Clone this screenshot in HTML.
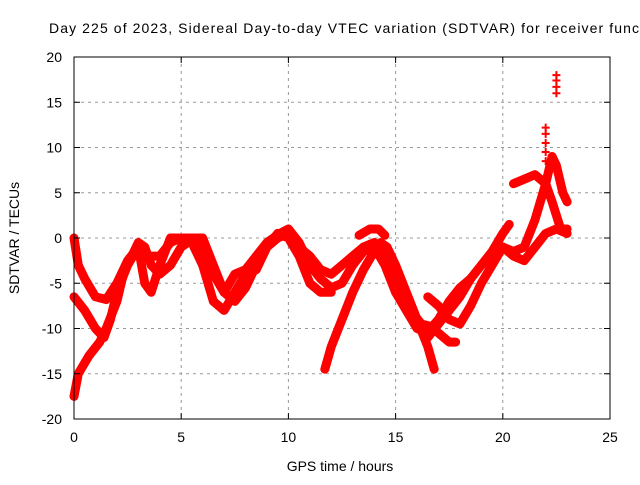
<!DOCTYPE html>
<html><head><meta charset="utf-8"><style>
body{margin:0;background:#fff;width:640px;height:480px;overflow:hidden;font-family:"Liberation Sans",sans-serif}
svg text{font-family:"Liberation Sans",sans-serif;font-size:14px;fill:#000}
</style></head><body>
<svg id="chart" width="640" height="480">
<text x="49" y="33" textLength="590" lengthAdjust="spacing">Day 225 of 2023, Sidereal Day-to-day VTEC variation (SDTVAR) for receiver func</text>
<text x="340" y="471" text-anchor="middle">GPS time / hours</text>
<text transform="translate(19,238) rotate(-90)" text-anchor="middle">SDTVAR / TECUs</text>
<g id="grid"></g><g id="series"></g><g id="ticks"></g>
<rect x="74" y="57" width="536" height="362" fill="none" stroke="#000" stroke-width="1"/>
</svg>
<script>
const xTicks=[0,5,10,15,20,25];
const yTicks=[20,15,10,5,0,-5,-10,-15,-20];
const track1=[[0,-17.5],[0.2,-15],[0.7,-13],[1.2,-11.5],[1.5,-10],[2,-7],[2.3,-4],[2.7,-2],[3,-0.5],[3.3,-1],[3.6,-3],[4,-4],[4.5,-3],[5,-1],[5.5,-0.2],[6,-1],[6.5,-4],[7,-6],[7.5,-4],[8,-3.5],[8.5,-2],[9,-0.5],[9.6,0.5],[10,1],[10.5,-0.5],[11,-3],[11.5,-4.5],[12,-5.5],[12.5,-5],[13,-3],[13.5,-1.5],[14,-1],[14.5,-3],[15,-6],[15.5,-8],[16,-10],[16.5,-10.5],[17,-9],[17.5,-7],[18,-5.5],[18.5,-4.5]];
const track2=[[0,-6.5],[0.5,-8],[1,-10],[1.4,-11],[1.7,-9],[2,-6],[2.5,-3],[3,-1],[3.5,-2],[4,-2],[4.5,-0.5],[5,0],[5.5,0],[6,0],[6.5,-3],[7,-6],[7.5,-7],[8,-5.5],[8.5,-3],[9,-1],[9.5,0],[10,0.5],[10.5,-1],[11,-2],[11.5,-3.5],[12,-4],[12.5,-3],[13,-2],[13.5,-1],[14,-0.5],[14.5,-2],[15,-5],[15.5,-7],[16,-9],[16.5,-11],[17,-9.5],[17.5,-8],[18,-6.5],[18.5,-4.5],[19,-3],[19.5,-1.5],[20,0.5],[20.3,1.5]];
const track3=[[0,0],[0.2,-3],[0.5,-4.5],[1,-6.5],[1.5,-6.8],[2,-5],[2.5,-2.5],[3,-1],[3.3,-5],[3.6,-6],[4,-3],[4.5,0],[5,0],[5.5,-0.5],[6,-3],[6.5,-7],[7,-8],[7.5,-6],[8,-4],[8.5,-3.5],[9,-1],[9.5,0.5],[10,0],[10.5,-2],[11,-5],[11.5,-6],[12,-6]];
const track4=[[11.7,-14.5],[12,-12],[12.5,-9],[13,-6],[13.5,-3.5],[14,-1.5],[14.3,-0.5],[14.6,-1],[15,-3],[15.5,-6],[16,-9],[16.5,-12],[16.8,-14.5]];
const track5=[[13.3,0.3],[13.8,1],[14.2,1],[14.5,0.3]];
const track6=[[16.5,-6.5],[17,-7.5],[17.5,-9],[18,-9.5],[18.5,-7.5],[19,-5],[19.5,-3],[20,-1],[20.5,-2],[21,-2.5],[21.5,-1],[22,0.5],[22.5,1],[23,0.5]];
const track7=[[19,-3],[19.5,-2],[20,-1],[20.5,-1.5],[21,-1],[21.5,2],[22,6],[22.3,9],[22.5,8],[22.8,5],[23,4]];
const track8=[[20.5,6],[21,6.5],[21.5,7],[22,6],[22.3,4],[22.7,1],[23,1]];
const track9=[[17,-10.5],[17.5,-11.5],[17.8,-11.5]];
const track10=[[14.2,-0.8],[14.7,-2],[15.2,-5],[15.7,-8],[16.2,-9.5],[16.7,-9.8],[17.2,-8.5]];
const spikeA=[[22,8.5],[22,9.5],[22,10.5],[22,11.5],[22,12.2]];
const spikeB=[[22.5,16],[22.5,16.7],[22.5,17.4],[22.5,18]];
const tracks=[track1,track2,track3,track4,track5,track6,track7,track8,track9,track10];
const sx=h=>74+h*536/25, sy=v=>238-v*362/40;
const ns="http://www.w3.org/2000/svg";
const grid=document.getElementById('grid'),ticks=document.getElementById('ticks'),ser=document.getElementById('series');
function mk(tag,a){const e=document.createElementNS(ns,tag);for(const k in a)e.setAttribute(k,a[k]);return e;}
xTicks.forEach(t=>{const x=sx(t);
 if(t>0&&t<25){const g=mk('line',{x1:x,x2:x,y1:57,y2:419,stroke:'#999','stroke-dasharray':'3,4'});
 
 grid.appendChild(g);}
 const tl=mk('path',{d:`M${x},419v-6M${x},57v6`,stroke:'#000'});
 
 ticks.appendChild(tl);
 const tx=mk('text',{x:x,y:442,'text-anchor':'middle'});tx.textContent=t;
 
 ticks.appendChild(tx);});
yTicks.forEach(t=>{const y=sy(t);
 if(t>-20&&t<20){const g=mk('line',{x1:74,x2:610,y1:y,y2:y,stroke:'#999','stroke-dasharray':'3,4'});
 
 grid.appendChild(g);}
 const tl=mk('path',{d:`M74,${y}h6M610,${y}h-6`,stroke:'#000'});
 
 ticks.appendChild(tl);
 const tx=mk('text',{x:62,y:y+5,'text-anchor':'end'});tx.textContent=t;
 
 ticks.appendChild(tx);});
tracks.forEach(tr=>{const p=mk('polyline',{points:tr.map(d=>sx(d[0])+','+sy(d[1])).join(' '),fill:'none',stroke:'#f00','stroke-width':9,'stroke-linejoin':'round','stroke-linecap':'round'});
 
 ser.appendChild(p);});
[spikeA,spikeB].forEach(sp=>sp.forEach(d=>{const x=sx(d[0]),y=sy(d[1]);
 const m=mk('path',{d:`M${x-4},${y}h8M${x},${y-4}v8`,stroke:'#f00','stroke-width':2});
 
 ser.appendChild(m);}));
</script>
</body></html>
